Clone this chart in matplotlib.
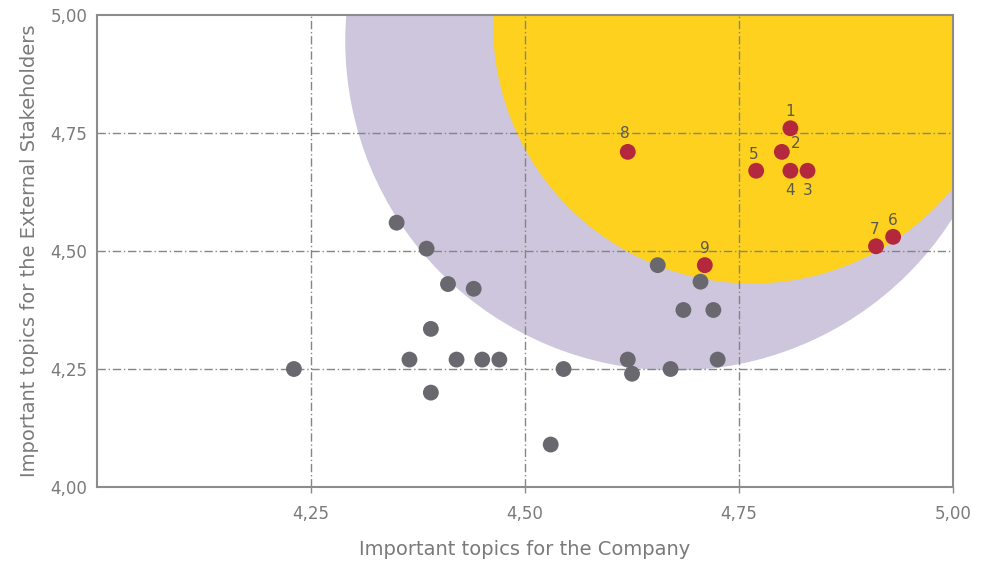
import numpy as np
import matplotlib
matplotlib.use("Agg")
import matplotlib.pyplot as plt
from matplotlib.patches import Ellipse

# topics scored by both groups
other_x = [4.23, 4.35, 4.385, 4.39, 4.365, 4.39, 4.41, 4.44, 4.42, 4.45, 4.47,
           4.545, 4.53, 4.62, 4.625, 4.67, 4.725, 4.655, 4.705, 4.685, 4.72]
other_y = [4.25, 4.56, 4.505, 4.335, 4.27, 4.20, 4.43, 4.42, 4.27, 4.27, 4.27,
           4.25, 4.09, 4.27, 4.24, 4.25, 4.27, 4.47, 4.435, 4.375, 4.375]

key_ids = ["1", "2", "3", "4", "5", "6", "7", "8", "9"]
key_x = [4.81, 4.80, 4.83, 4.81, 4.77, 4.93, 4.91, 4.62, 4.71]
key_y = [4.76, 4.71, 4.67, 4.67, 4.67, 4.53, 4.51, 4.71, 4.47]

ticks = [4.00, 4.25, 4.50, 4.75, 5.00]

GREY_TXT = "#7a7a7a"

# label offsets in points, per topic number
offsets = {"1": (0, 12), "2": (10, 6), "3": (0, -14), "4": (0, -14),
           "5": (-2, 12), "6": (0, 12), "7": (-1, 12), "8": (-2, 13),
           "9": (0, 12)}


def fmt(v):
    return ("%.2f" % v).replace(".", ",")


fig = plt.figure(figsize=(9.94, 5.65), dpi=100)
ax = fig.add_axes([0.0976, 0.138, 0.8612, 0.8355])
ax.set_xlim(4.0, 5.0)
ax.set_ylim(4.0, 5.0)

# materiality zones
ax.add_patch(Ellipse((4.6750, 4.9450), 0.7700, 1.3960,
                     facecolor="#cdc6dc", edgecolor="none", zorder=1))
ax.add_patch(Ellipse((4.7652, 4.9799), 0.6051, 1.0975,
                     facecolor="#fdd11e", edgecolor="none", zorder=2))

for v in ticks[1:-1]:
    ax.axvline(v, color="#858585", lw=1.0, ls=(0, (6, 2, 1, 2)), zorder=3)
    ax.axhline(v, color="#858585", lw=1.0, ls=(0, (6, 2, 1, 2)), zorder=3)

ax.scatter(other_x, other_y, s=130, color="#68686e", edgecolor="none",
           zorder=4)
ax.scatter(key_x, key_y, s=130, color="#b3283d", edgecolor="none", zorder=5)

for lab, x, y in zip(key_ids, key_x, key_y):
    dx, dy = offsets[lab]
    ax.annotate(lab, (x, y), xytext=(dx, dy), textcoords="offset points",
                ha="center", va="center", fontsize=11, color="#5a5a4a",
                zorder=6)

ax.set_xticks(ticks[1:])
ax.set_xticklabels([fmt(t) for t in ticks[1:]])
ax.set_yticks(ticks)
ax.set_yticklabels([fmt(t) for t in ticks])
ax.tick_params(axis="both", colors="#8c8c8c", labelcolor=GREY_TXT,
               labelsize=12, length=4, width=1)
ax.tick_params(axis="x", pad=9)
ax.tick_params(axis="y", length=0, pad=7)

for s in ax.spines.values():
    s.set_color("#8c8c8c")
    s.set_linewidth(1.5)
    s.set_zorder(7)

ax.set_xlabel("Important topics for the Company", fontsize=14,
              color=GREY_TXT, labelpad=12)
ax.set_ylabel("Important topics for the External Stakeholders", fontsize=14,
              color=GREY_TXT, labelpad=8)

fig.savefig("out.png", dpi=100)
